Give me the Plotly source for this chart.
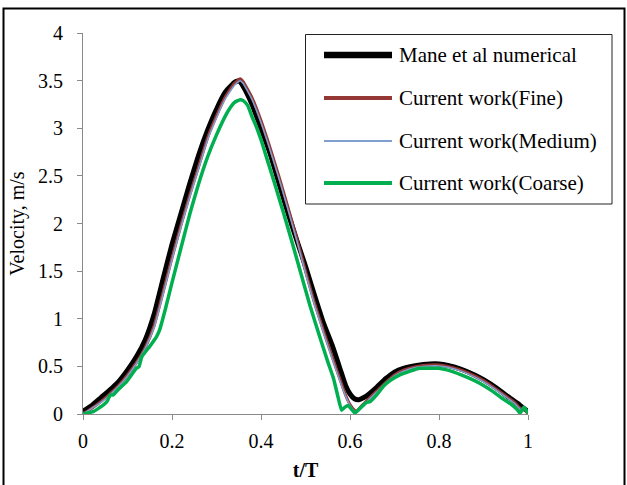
import plotly.graph_objects as go

# ---- data ----
t_mane = [0, 0.02, 0.04, 0.06, 0.08, 0.10, 0.12, 0.14, 0.16, 0.18, 0.20, 0.22, 0.24, 0.26, 0.28,
          0.30, 0.32, 0.34, 0.35, 0.36, 0.38, 0.40, 0.42, 0.44, 0.46, 0.48, 0.50, 0.52, 0.54,
          0.56, 0.58, 0.59, 0.60, 0.61, 0.62, 0.63, 0.64, 0.66, 0.68, 0.70, 0.72, 0.75, 0.78,
          0.80, 0.82, 0.85, 0.88, 0.90, 0.93, 0.96, 0.98, 0.99, 1.0]
v_mane = [0.03, 0.09, 0.17, 0.25, 0.34, 0.46, 0.60, 0.78, 1.05, 1.42, 1.78, 2.10, 2.42, 2.72, 2.98,
          3.20, 3.38, 3.48, 3.50, 3.44, 3.25, 3.00, 2.74, 2.43, 2.12, 1.83, 1.55, 1.25, 0.96,
          0.72, 0.44, 0.30, 0.21, 0.16, 0.15, 0.17, 0.20, 0.28, 0.37, 0.44, 0.48, 0.51, 0.525,
          0.525, 0.51, 0.47, 0.41, 0.36, 0.27, 0.165, 0.10, 0.06, 0.03]

t_fine = [0, 0.02, 0.04, 0.06, 0.08, 0.10, 0.12, 0.14, 0.16, 0.18, 0.20, 0.22, 0.24, 0.26, 0.28,
          0.30, 0.32, 0.34, 0.353, 0.36, 0.38, 0.40, 0.42, 0.44, 0.46, 0.48, 0.50, 0.52, 0.54,
          0.56, 0.58, 0.59, 0.60, 0.61, 0.615, 0.625, 0.64, 0.66, 0.68, 0.70, 0.72, 0.75, 0.78,
          0.80, 0.82, 0.85, 0.88, 0.90, 0.92, 0.95, 0.97, 0.985, 0.99, 1.0]
v_fine = [0.0, 0.06, 0.13, 0.21, 0.30, 0.41, 0.54, 0.70, 0.93, 1.28, 1.64, 1.98, 2.30, 2.60, 2.90,
          3.13, 3.33, 3.47, 3.52, 3.49, 3.32, 3.08, 2.80, 2.50, 2.18, 1.85, 1.50, 1.17, 0.88,
          0.60, 0.33, 0.20, 0.10, 0.04, 0.03, 0.08, 0.15, 0.24, 0.33, 0.41, 0.46, 0.50, 0.515,
          0.515, 0.50, 0.46, 0.40, 0.35, 0.29, 0.19, 0.12, 0.05, 0.06, 0.0]

t_medium = [0, 0.02, 0.04, 0.06, 0.08, 0.10, 0.12, 0.14, 0.16, 0.18, 0.20, 0.22, 0.24, 0.26, 0.28,
            0.30, 0.32, 0.34, 0.353, 0.36, 0.38, 0.40, 0.42, 0.44, 0.46, 0.48, 0.50, 0.52, 0.54,
            0.56, 0.58, 0.59, 0.60, 0.61, 0.615, 0.625, 0.64, 0.66, 0.68, 0.70, 0.72, 0.75, 0.78,
            0.80, 0.82, 0.85, 0.88, 0.90, 0.92, 0.95, 0.97, 0.985, 0.99, 1.0]
v_medium = [0.0, 0.06, 0.12, 0.20, 0.29, 0.40, 0.53, 0.69, 0.91, 1.26, 1.62, 1.96, 2.28, 2.58, 2.88,
            3.11, 3.31, 3.45, 3.50, 3.47, 3.30, 3.06, 2.78, 2.48, 2.16, 1.83, 1.48, 1.15, 0.86,
            0.58, 0.31, 0.19, 0.09, 0.03, 0.02, 0.07, 0.14, 0.23, 0.32, 0.40, 0.45, 0.49, 0.505,
            0.505, 0.49, 0.45, 0.39, 0.34, 0.28, 0.18, 0.11, 0.04, 0.08, 0.01]

t_coarse = [0, 0.023, 0.046, 0.055, 0.061, 0.068, 0.08, 0.098, 0.12, 0.126, 0.132, 0.15, 0.165,
            0.172, 0.185, 0.20, 0.22, 0.24, 0.26, 0.28, 0.30, 0.32, 0.33, 0.34, 0.353, 0.36, 0.37,
            0.38, 0.39, 0.40, 0.41, 0.42, 0.43, 0.45, 0.47, 0.49, 0.51, 0.53, 0.55, 0.5625, 0.572,
            0.581, 0.588, 0.596, 0.611, 0.625, 0.637, 0.645, 0.66, 0.675, 0.69, 0.712, 0.735,
            0.757, 0.78, 0.80, 0.82, 0.85, 0.88, 0.90, 0.92, 0.94, 0.96, 0.975, 0.982, 0.991, 1.0]
v_coarse = [0.0, 0.025, 0.095, 0.14, 0.20, 0.20, 0.26, 0.34, 0.48, 0.50, 0.60, 0.71, 0.81,
            0.88, 1.10, 1.38, 1.74, 2.10, 2.42, 2.70, 2.93, 3.13, 3.21, 3.27, 3.30, 3.29, 3.24,
            3.12, 3.01, 2.88, 2.73, 2.58, 2.43, 2.12, 1.80, 1.47, 1.14, 0.84, 0.55, 0.38, 0.20,
            0.04, 0.07, 0.09, 0.01, 0.07, 0.12, 0.13, 0.20, 0.29, 0.35, 0.41, 0.45,
            0.48, 0.48, 0.48, 0.46, 0.41, 0.35, 0.30, 0.24, 0.17, 0.11, 0.05, 0.01, 0.07, 0.01]

names = ["Mane et al numerical", "Current work(Fine)", "Current work(Medium)", "Current work(Coarse)"]
colors = ["#000000", "#953735", "#7F9FD0", "#00B050"]
widths = [5, 3, 1.5, 3.5]
leg_widths = [6.5, 4, 2, 4]

x_ticks = [0, 0.2, 0.4, 0.6, 0.8, 1]
y_ticks = [0, 0.5, 1, 1.5, 2, 2.5, 3, 3.5, 4]

series = [(t_mane, v_mane), (t_fine, v_fine), (t_medium, v_medium), (t_coarse, v_coarse)]

FONT = "Liberation Serif, Times New Roman, serif"

fig = go.Figure()
for (tx, vy), n, c, w in zip(series, names, colors, widths):
    fig.add_trace(go.Scatter(x=tx, y=vy, name=n, mode="lines",
                             line=dict(color=c, width=w, shape="spline", smoothing=0.4),
                             showlegend=False))

# plot-area geometry (px) for paper-coordinate decorations
W, H = 627, 485
ml, mr, mt, mb = 83, 99, 33, 71
pw, ph = W - ml - mr, H - mt - mb
def px(x):
    return (x - ml) / pw
def py(y):
    return (H - mb - y) / ph

shapes = []
# outer frame
shapes.append(dict(type="rect", xref="paper", yref="paper",
                   x0=px(3.5), x1=px(624.5), y0=py(495), y1=py(8.5),
                   line=dict(color="black", width=2), fillcolor="rgba(0,0,0,0)"))
# legend box
shapes.append(dict(type="rect", xref="paper", yref="paper",
                   x0=px(305.5), x1=px(612), y0=py(204), y1=py(34.5),
                   line=dict(color="#222222", width=1), fillcolor="white"))
annotations = []
rows = [55, 98, 141, 183]
for r, n, c, lw in zip(rows, names, colors, leg_widths):
    shapes.append(dict(type="line", xref="paper", yref="paper",
                       x0=px(324), x1=px(392), y0=py(r), y1=py(r),
                       line=dict(color=c, width=lw)))
    annotations.append(dict(xref="paper", yref="paper", x=px(397), y=py(r),
                            text=n, showarrow=False, xanchor="left", yanchor="middle",
                            font=dict(family=FONT, size=21, color="black")))

fig.update_layout(
    width=W, height=H,
    margin=dict(l=ml, r=mr, t=mt, b=mb, pad=0, autoexpand=False),
    paper_bgcolor="white", plot_bgcolor="white",
    font=dict(family=FONT, size=20, color="black"),
    shapes=shapes, annotations=annotations,
    xaxis=dict(range=[0, 1], tickvals=x_ticks, ticktext=[f"{v:g}" for v in x_ticks],
               showgrid=False, zeroline=False, showline=True, linecolor="#8a8a8a", linewidth=1,
               ticks="outside", ticklen=5, tickcolor="#8a8a8a", ticklabelstandoff=4,
               tickfont=dict(family=FONT, size=20), automargin=False,
               title=dict(text="<b>t/T</b>", font=dict(family=FONT, size=20), standoff=11)),
    yaxis=dict(range=[0, 4], tickvals=y_ticks, ticktext=[f"{v:g}" for v in y_ticks],
               showgrid=False, zeroline=False, showline=True, linecolor="#8a8a8a", linewidth=1,
               ticks="outside", ticklen=5, tickcolor="#8a8a8a", ticklabelstandoff=10,
               tickfont=dict(family=FONT, size=20), automargin=False,
               title=dict(text="Velocity, m/s", font=dict(family=FONT, size=20), standoff=8)),
)

fig.write_html("out.html")
